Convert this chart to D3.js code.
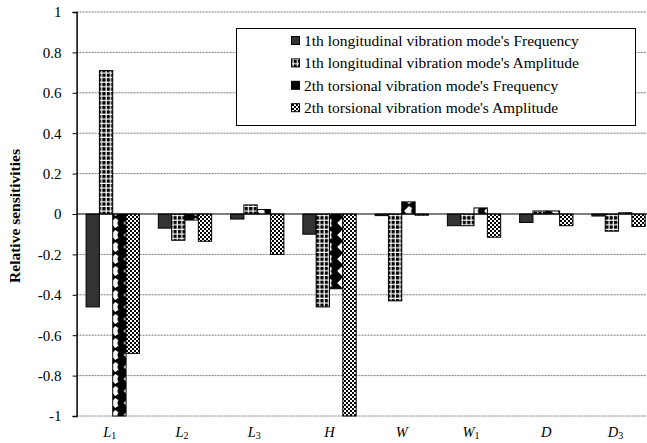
<!DOCTYPE html>
<html><head><meta charset="utf-8">
<script src="https://cdn.jsdelivr.net/npm/d3@7/dist/d3.min.js"></script>
<style>body{margin:0;background:#fff}svg{display:block}svg text{font-family:"Liberation Serif","Times New Roman",serif !important}</style>
</head><body><svg id="c" width="647" height="443"></svg>
<script>
const categories = [["L","1"],["L","2"],["L","3"],["H",""],["W",""],["W","1"],["D",""],["D","3"]];
const seriesNames = ["1th longitudinal vibration mode's Frequency","1th longitudinal vibration mode's Amplitude","2th torsional vibration mode's Frequency","2th torsional vibration mode's Amplitude"];
const freq1 = [-0.46,-0.07,-0.025,-0.10,-0.008,-0.058,-0.042,-0.01];
const amp1  = [0.71,-0.13,0.045,-0.46,-0.43,-0.058,0.015,-0.085];
const freq2 = [-1.0,-0.03,0.022,-0.37,0.06,0.03,0.015,0.006];
const amp2  = [-0.69,-0.135,-0.20,-1.0,-0.006,-0.115,-0.058,-0.062];
const yTicks = [-1,-0.8,-0.6,-0.4,-0.2,0,0.2,0.4,0.6,0.8,1];
const series = [freq1,amp1,freq2,amp2];

const svg = d3.select("#c");
const left = 76.6, step = 72.26;
const x0 = d3.scaleBand().domain(d3.range(categories.length)).range([left, left+step*categories.length]).paddingInner(0.262).paddingOuter(0.131);
const x1 = d3.scaleBand().domain(d3.range(4)).range([0, x0.bandwidth()]);
const y = d3.scaleLinear().domain([-1,1]).range([416,12]);

const defs = svg.append("defs");
let p = defs.append("pattern").attr("id","p1").attr("patternUnits","userSpaceOnUse").attr("width",4.45).attr("height",4.6);
p.append("rect").attr("width",4.45).attr("height",4.6).attr("fill","#000");
p.append("rect").attr("x",3.2).attr("y",0).attr("width",1.2).attr("height",4.6).attr("fill","#fff");
p.append("rect").attr("x",0).attr("y",3.4).attr("width",4.45).attr("height",1.2).attr("fill","#fff");
p = defs.append("pattern").attr("id","p2").attr("patternUnits","userSpaceOnUse").attr("width",13.35).attr("height",12).attr("x",0.5).attr("y",1);
p.append("rect").attr("width",13.35).attr("height",12).attr("fill","#000");
p.append("path").attr("d","M3,6 L8,1 L11,3 L10,6 L11,9 L8,11 Z").attr("fill","#fff");
p = defs.append("pattern").attr("id","p3").attr("patternUnits","userSpaceOnUse").attr("width",4).attr("height",4);
p.append("rect").attr("width",4).attr("height",4).attr("fill","#fff");
p.append("rect").attr("width",2).attr("height",2).attr("fill","#000");
p.append("rect").attr("x",2).attr("y",2).attr("width",2).attr("height",2).attr("fill","#000");
const fills = ["#333","url(#p1)","url(#p2)","url(#p3)"];

svg.append("g").selectAll("line").data(yTicks.filter(d=>d!==0)).join("line")
  .attr("x1",left).attr("x2",647).attr("y1",d=>y(d)).attr("y2",d=>y(d))
  .attr("stroke","#7a7a7a").attr("stroke-width",1).attr("stroke-dasharray","2,1");

const g = svg.append("g");
series.forEach((s,si)=>{
  g.selectAll(".b"+si).data(s).join("rect").attr("class","b"+si)
    .attr("x",(d,i)=>x0(i)+x1(si)).attr("width",x1.bandwidth())
    .attr("y",d=>y(Math.max(0,d))).attr("height",d=>Math.abs(y(d)-y(0)))
    .attr("fill",fills[si]).attr("stroke","#000").attr("stroke-width",1);
});

svg.append("line").attr("x1",left).attr("x2",647).attr("y1",y(0)).attr("y2",y(0)).attr("stroke","#000").attr("stroke-width",1.2);

const ax = svg.append("g").attr("transform",`translate(${left},0)`)
  .call(d3.axisLeft(y).tickValues(yTicks).tickSize(4).tickPadding(11).tickFormat(d=>String(+d.toFixed(1))));
ax.attr("font-family",null);
ax.select(".domain").attr("stroke","#000").attr("stroke-width",1.5);
ax.selectAll(".tick line").attr("stroke","#000");
ax.selectAll(".tick text").style("font-size","15px").attr("fill","#000");

svg.append("text").attr("transform","translate(20,216) rotate(-90)").attr("text-anchor","middle")
  .attr("font-size",15.5).attr("font-weight","bold").text("Relative sensitivities");

const xl = svg.append("g").selectAll("text").data(categories).join("text")
  .attr("x",(d,i)=>x0(i)+x0.bandwidth()/2+ (d[1]?-3:0)).attr("y",437).attr("font-size",14.5);
xl.append("tspan").attr("font-style","italic").text(d=>d[0]);
xl.append("tspan").attr("font-size",10).attr("dy",2).text(d=>d[1]);
xl.attr("text-anchor","middle");

const lg = svg.append("g");
lg.append("rect").attr("x",236.5).attr("y",28.5).attr("width",399).attr("height",97).attr("fill","#fff").attr("stroke","#000");
seriesNames.forEach((n,i)=>{
  const yy = 41 + i*22.4;
  lg.append("rect").attr("x",291.5).attr("y",yy-4.5).attr("width",8).attr("height",8).attr("fill",fills[i]).attr("stroke","#000");
  lg.append("text").attr("x",304).attr("y",yy+5).attr("font-size",15.5).text(n);
});
</script></body></html>
